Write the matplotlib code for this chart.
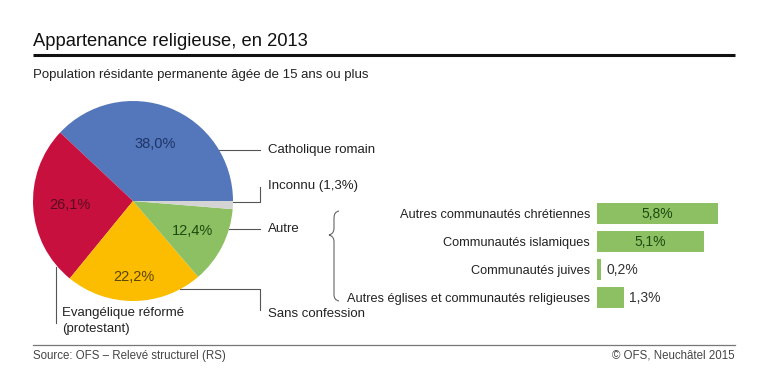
import matplotlib
matplotlib.use('Agg')
import matplotlib.pyplot as plt
import numpy as np
from matplotlib.path import Path
from matplotlib.patches import PathPatch

plt.rcParams['font.family'] = ['Liberation Sans', 'DejaVu Sans']

# pie data (counterclockwise from 3 o'clock)
pie_names = ['Catholique romain', 'Evangélique réformé\n(protestant)', 'Sans confession', 'Autre', 'Inconnu (1,3%)']
pie_values = [38.0, 26.1, 22.2, 12.4, 1.3]
pie_labels = ['38,0%', '26,1%', '22,2%', '12,4%', '']
pie_colors = ['#5476ba', '#c8103f', '#fcbd00', '#8cc062', '#d4d4d4']
pct_colors = ['#1d3568', '#5a0a1e', '#5a4600', '#1d4a12', '#000000']
pct_radius = [0.61, 0.635, 0.76, 0.67, 0.6]

# breakdown of "Autre"
bar_names = ['Autres communautés chrétiennes', 'Communautés islamiques',
             'Communautés juives', 'Autres églises et communautés religieuses']
bar_values = [5.8, 5.1, 0.2, 1.3]
bar_labels = ['5,8%', '5,1%', '0,2%', '1,3%']

W, H = 768, 390
fig = plt.figure(figsize=(W / 100, H / 100), dpi=100)

def px_axes(left, top, width, height):
    return fig.add_axes([left / W, 1 - (top + height) / H, width / W, height / H])

# overlay for text / rules, in pixel coordinates
ov = fig.add_axes([0, 0, 1, 1])
ov.set_xlim(0, W)
ov.set_ylim(H, 0)
ov.axis('off')

ov.text(33, 41, 'Appartenance religieuse, en 2013', fontsize=13.2, color='#111111', va='center', ha='left')
ov.plot([33, 735], [55, 55], color='#111111', lw=2.2, solid_capstyle='butt')
ov.text(33, 75, 'Population résidante permanente âgée de 15 ans ou plus', fontsize=9.5, color='#222222', va='center')
ov.plot([33, 735], [345, 345], color='#777777', lw=0.9)
ov.text(33, 356, 'Source: OFS – Relevé structurel (RS)', fontsize=8.3, color='#444444', va='center')
ov.text(735, 356, '© OFS, Neuchâtel 2015', fontsize=8.3, color='#444444', va='center', ha='right')

# pie
cx, cy, R = 133, 201, 100
pa = px_axes(cx - R, cy - R, 2 * R, 2 * R)
wedges, _ = pa.pie(pie_values, colors=pie_colors, startangle=0, counterclock=True,
                   wedgeprops=dict(linewidth=0))
pa.set_xlim(-1, 1)
pa.set_ylim(-1, 1)
pa.set_aspect('equal')
pa.axis('off')
for w, lab, col, r in zip(wedges, pie_labels, pct_colors, pct_radius):
    mid = np.deg2rad((w.theta1 + w.theta2) / 2)
    pa.text(r * np.cos(mid), r * np.sin(mid), lab, color=col, fontsize=10.5, ha='center', va='center')

def edge_x(y):
    return cx + np.sqrt(R ** 2 - (y - cy) ** 2)

lc = '#555555'
lw = 0.8
tx = 268
# Catholique
ov.plot([edge_x(150), 260], [150, 150], color=lc, lw=lw)
ov.text(tx, 150, pie_names[0], fontsize=9.5, color='#222222', va='center')
# Inconnu
ov.plot([edge_x(201.5), 260, 260], [201.5, 201.5, 187], color=lc, lw=lw)
ov.text(tx, 186, pie_names[4], fontsize=9.5, color='#222222', va='center')
# Autre
ov.plot([edge_x(229), 260], [229, 229], color=lc, lw=lw)
ov.text(tx, 229, pie_names[3], fontsize=9.5, color='#222222', va='center')
# Sans confession
ov.plot([180, 260, 260], [289, 289, 310], color=lc, lw=lw)
ov.text(tx, 314, pie_names[2], fontsize=9.5, color='#222222', va='center')
# Evangelique
ov.plot([55.5, 55.5], [267, 323], color=lc, lw=lw)
ov.text(62, 321, pie_names[1], fontsize=9.5, color='#222222', va='center', linespacing=1.4)

# brace
verts = [(339, 211), (335, 212), (334, 214), (334, 219),
         (334, 228), (334, 231), (333, 234), (329, 235),
         (333, 236), (334, 239), (334, 242),
         (334, 294), (334, 298), (335, 300), (339, 301)]
codes = [Path.MOVETO, Path.CURVE4, Path.CURVE4, Path.CURVE4,
         Path.LINETO, Path.CURVE4, Path.CURVE4, Path.CURVE4,
         Path.CURVE4, Path.CURVE4, Path.CURVE4,
         Path.LINETO, Path.CURVE4, Path.CURVE4, Path.CURVE4]
ov.add_patch(PathPatch(Path(verts, codes), fill=False, edgecolor='#666666', lw=0.8))

# bars
ba = px_axes(597, 199.5, 20.9 * 6.5, 112)
y = np.arange(len(bar_values))
ba.barh(y, bar_values, height=0.76, color='#8cc062')
ba.set_xlim(0, 6.5)
ba.set_ylim(3.5, -0.5)
ba.set_yticks(y)
ba.set_yticklabels(bar_names, fontsize=9.2, color='#222222')
ba.tick_params(axis='y', length=0, pad=5)
ba.set_xticks([])
for s in ba.spines.values():
    s.set_visible(False)
ba.patch.set_alpha(0)
for yi, v, lab in zip(y, bar_values, bar_labels):
    if v > 3:
        ba.text(v / 2, yi, lab, ha='center', va='center', fontsize=10, color='#1d4a12')
    else:
        ba.text(v + 0.25, yi, lab, ha='left', va='center', fontsize=10, color='#333333')

fig.savefig('out.png', dpi=100)
